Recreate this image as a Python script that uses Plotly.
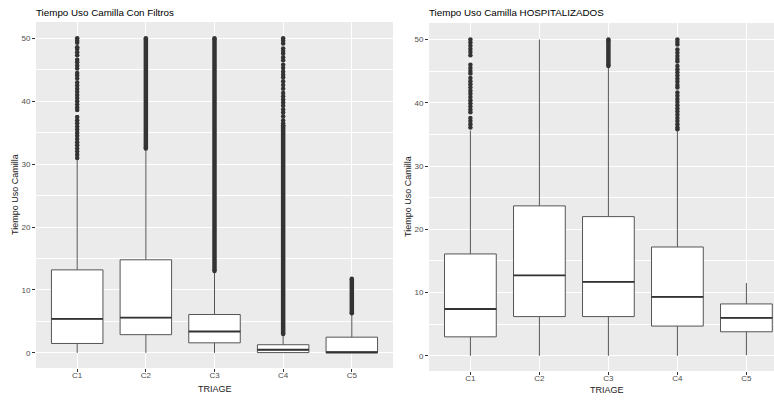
import plotly.graph_objects as go

# ---- data -----------------------------------------------------------------
categories = ["C1", "C2", "C3", "C4", "C5"]

# "Con Filtros" panel: box statistics per triage level
filt_lowerfence = [0.0, 0.0, 0.0, 0.0, 0.0]
filt_q1 = [1.5, 2.9, 1.6, 0.05, 0.0]
filt_median = [5.4, 5.6, 3.4, 0.5, 0.1]
filt_q3 = [13.2, 14.8, 6.1, 1.3, 2.5]
filt_upperfence = [30.8, 32.4, 12.9, 2.9, 6.2]

# individual outliers
filt_outliers_c1 = [50.0, 49.6, 49.3, 48.6, 48.3, 47.8, 47.3, 46.6, 46.2, 45.7,
                    45.2, 44.5, 44.1, 43.6, 43.0, 42.5, 42.0, 41.5, 41.0, 40.5,
                    40.0, 39.5, 39.0, 38.6, 37.5, 37.0, 36.5, 36.0, 35.5, 35.0,
                    34.5, 34.0, 33.5, 33.0, 32.5, 32.0, 31.5, 31.0]
filt_outliers_c4 = [50.0, 49.6, 49.2, 48.4, 48.0, 47.6, 47.0, 46.5, 45.8, 45.3,
                    44.7, 44.2, 43.8, 43.2, 42.6, 42.0, 41.3, 40.8, 40.3, 39.8,
                    39.3, 38.7, 38.2, 37.6, 37.0, 36.5]
# runs of outliers so dense they form a continuous column: (category, low, high)
filt_outlier_runs = [("C2", 32.5, 50.0), ("C3", 13.0, 50.0),
                     ("C4", 3.0, 36.2), ("C5", 6.3, 11.8)]

# "HOSPITALIZADOS" panel
hosp_lowerfence = [0.0, 0.0, 0.0, 0.0, 0.1]
hosp_q1 = [3.0, 6.2, 6.2, 4.7, 3.8]
hosp_median = [7.4, 12.7, 11.7, 9.3, 6.0]
hosp_q3 = [16.1, 23.7, 22.0, 17.2, 8.2]
hosp_upperfence = [35.6, 50.0, 45.5, 35.5, 11.5]

hosp_outliers_c1 = [50.0, 49.5, 49.0, 48.5, 48.0, 47.5, 46.0, 45.5, 45.0, 44.6,
                    43.9, 43.4, 42.9, 42.4, 41.9, 41.4, 40.9, 40.4, 39.9, 39.4,
                    38.9, 38.5, 37.6, 37.1, 36.6, 36.1]
hosp_outliers_c4 = [50.0, 49.6, 49.2, 48.4, 47.9, 47.4, 46.9, 46.5, 45.8, 45.3,
                    44.8, 44.3, 43.8, 43.3, 42.8, 42.4, 41.6, 41.1, 40.6, 40.1,
                    39.6, 39.1, 38.6, 38.1, 37.6, 37.1, 36.6, 36.1, 35.8]
hosp_outlier_runs = [("C3", 45.8, 50.0)]

# ---- styling ----------------------------------------------------------------
W, H = 774, 400
FONT = "Liberation Sans, Arial, sans-serif"
BOX_WIDTH = 0.75
POINT_COLOR = "#333333"
POINT_SIZE = 4.5
pos = {c: i + 1 for i, c in enumerate(categories)}
positions = [pos[c] for c in categories]

fig = go.Figure()


def add_panel(xa, ya, lf, q1, med, q3, uf, scattered, runs):
    fig.add_trace(go.Box(
        x=positions, q1=q1, median=med, q3=q3, lowerfence=lf, upperfence=uf,
        width=BOX_WIDTH, fillcolor="white", whiskerwidth=0,
        line=dict(color="#555555", width=1), boxpoints=False,
        xaxis=xa, yaxis=ya, showlegend=False, hoverinfo="skip"))
    # heavier median bar, as in ggplot
    mx, my = [], []
    for p, m in zip(positions, med):
        mx += [p - BOX_WIDTH / 2, p + BOX_WIDTH / 2, None]
        my += [m, m, None]
    fig.add_trace(go.Scatter(x=mx, y=my, mode="lines",
                             line=dict(color="#333333", width=1.8),
                             xaxis=xa, yaxis=ya, showlegend=False, hoverinfo="skip"))
    # dense outlier columns
    rx, ry, ex, ey = [], [], [], []
    for cat, lo, hi in runs:
        rx += [pos[cat], pos[cat], None]
        ry += [lo, hi, None]
        ex += [pos[cat], pos[cat]]
        ey += [lo, hi]
    if runs:
        fig.add_trace(go.Scatter(x=rx, y=ry, mode="lines",
                                 line=dict(color=POINT_COLOR, width=POINT_SIZE),
                                 xaxis=xa, yaxis=ya, showlegend=False, hoverinfo="skip"))
    # individual outliers
    px, py = list(ex), list(ey)
    for cat, vals in scattered:
        px += [pos[cat]] * len(vals)
        py += vals
    fig.add_trace(go.Scatter(x=px, y=py, mode="markers",
                             marker=dict(color=POINT_COLOR, size=POINT_SIZE, line=dict(width=0)),
                             xaxis=xa, yaxis=ya, showlegend=False, hoverinfo="skip"))


add_panel("x", "y", filt_lowerfence, filt_q1, filt_median, filt_q3, filt_upperfence,
          [("C1", filt_outliers_c1), ("C4", filt_outliers_c4)], filt_outlier_runs)
add_panel("x2", "y2", hosp_lowerfence, hosp_q1, hosp_median, hosp_q3, hosp_upperfence,
          [("C1", hosp_outliers_c1), ("C4", hosp_outliers_c4)], hosp_outlier_runs)


def px_x(v):
    return v / W


def px_y(v):
    return 1 - v / H


tick_font = dict(family=FONT, size=8, color="#4D4D4D")
xaxis_common = dict(
    type="linear", tickvals=positions, ticktext=categories,
    showgrid=True, gridcolor="white", gridwidth=1.1, zeroline=False,
    ticks="outside", ticklen=3, tickwidth=1, tickcolor="#333333",
    ticklabelstandoff=-4,
    tickfont=tick_font, showline=False, fixedrange=True)
yaxis_common = dict(
    range=[-2.4, 52.6], tickvals=[0, 10, 20, 30, 40, 50],
    showgrid=True, gridcolor="white", gridwidth=1.1, zeroline=False,
    minor=dict(dtick=5, tick0=0, showgrid=True, gridcolor="white", gridwidth=0.5, ticks=""),
    ticks="outside", ticklen=3, tickwidth=1, tickcolor="#333333",
    tickfont=tick_font, showline=False, fixedrange=True)

fig.update_layout(
    width=W, height=H, margin=dict(l=0, r=0, t=0, b=0),
    paper_bgcolor="white", plot_bgcolor="#EBEBEB",
    font=dict(family=FONT),
    xaxis=dict(xaxis_common, domain=[px_x(36), px_x(393)], range=[0.4, 5.6], anchor="y"),
    yaxis=dict(yaxis_common, domain=[px_y(368), px_y(22)], anchor="x"),
    xaxis2=dict(xaxis_common, domain=[px_x(429), 1.0], range=[0.4, 5.4], anchor="y2"),
    yaxis2=dict(yaxis_common, domain=[px_y(371), px_y(23)], anchor="x2"),
)

title_font = dict(family=FONT, size=9.8, color="#000000")
axis_title_font = dict(family=FONT, size=9, color="#1a1a1a")
annotations = [
    dict(text="Tiempo Uso Camilla Con Filtros", x=px_x(34), y=px_y(13),
         xanchor="left", yanchor="middle", font=title_font),
    dict(text="Tiempo Uso Camilla HOSPITALIZADOS", x=px_x(427), y=px_y(13),
         xanchor="left", yanchor="middle", font=title_font),
    dict(text="Tiempo Uso Camilla", x=px_x(15), y=px_y(195), textangle=-90,
         xanchor="center", yanchor="middle", font=axis_title_font),
    dict(text="Tiempo Uso Camilla", x=px_x(408), y=px_y(197), textangle=-90,
         xanchor="center", yanchor="middle", font=axis_title_font),
    dict(text="TRIAGE", x=px_x(214.5), y=px_y(389),
         xanchor="center", yanchor="middle", font=axis_title_font),
    dict(text="TRIAGE", x=px_x(607), y=px_y(390),
         xanchor="center", yanchor="middle", font=axis_title_font),
]
for a in annotations:
    a.update(xref="paper", yref="paper", showarrow=False)
fig.update_layout(annotations=annotations)

fig.write_html("out.html")
